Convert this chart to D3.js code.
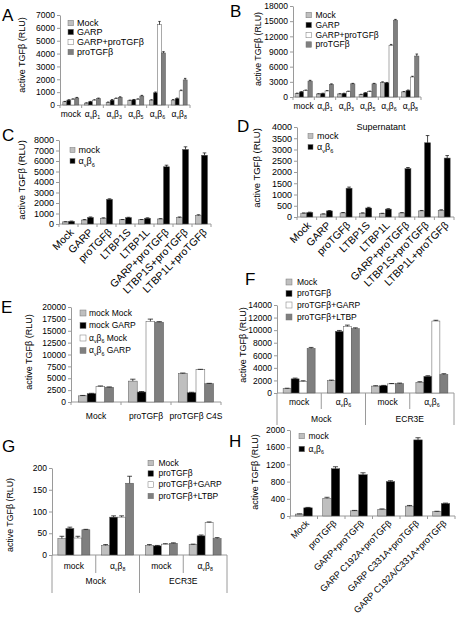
<!DOCTYPE html>
<html><head><meta charset="utf-8">
<script src="https://cdn.jsdelivr.net/npm/d3@7"></script>
<style>
body{margin:0;background:#fff}
svg{display:block}
text{font-family:"Liberation Sans",Arial,sans-serif;fill:#000}
</style>
</head><body>
<svg id="c" width="456" height="623"></svg>
<script>
// ---------- DATA ----------
const yTitle = "active TGFβ (RLU)";
// Panel A
const aCats = ["mock","αvβ1","αvβ3","αvβ5","αvβ6","αvβ8"];
const aLegend = ["Mock","GARP","GARP+proTGFβ","proTGFβ"];
const aMock = [250,150,200,350,380,380],      aMockErr = [30,20,30,30,30,40];
const aGarp = [380,250,380,400,950,500],      aGarpErr = [30,30,40,30,60,40];
const aGarpPro = [450,380,500,450,6250,1100], aGarpProErr = [30,30,40,30,250,60];
const aPro = [550,500,600,700,4050,1950],     aProErr = [40,40,40,50,100,120];
const aTicks = [0,1000,2000,3000,4000,5000,6000,7000];
// Panel B
const bCats = ["mock","αvβ1","αvβ3","αvβ5","αvβ6","αvβ8"];
const bLegend = ["Mock","GARP","GARP+proTGFβ","proTGFβ"];
const bMock = [700,600,600,500,2900,1000],       bMockErr = [60,50,50,40,100,80];
const bGarp = [1000,700,700,800,2800,1300],      bGarpErr = [60,50,50,60,80,80];
const bGarpPro = [1300,1200,1100,1100,10200,3950], bGarpProErr = [80,60,60,60,200,150];
const bPro = [3150,2500,2600,2600,15200,8100],   bProErr = [150,100,100,100,150,400];
const bTicks = [0,3000,6000,9000,12000,15000,18000];
// Panel C
const cCats = ["Mock","GARP","proTGFβ","LTBP1S","LTBP1L","GARP+proTGFβ","LTBP1S+proTGFβ","LTBP1L+proTGFβ"];
const cLegend = ["mock","αvβ6"];
const cMock = [200,380,550,400,400,480,620,820], cMockErr = [20,40,40,30,30,30,50,60];
const cAvb6 = [250,620,2350,600,550,5450,7100,6550], cAvb6Err = [30,50,50,40,40,150,250,220];
const cTicks = [0,1000,2000,3000,4000,5000,6000,7000,8000];
// Panel D
const dCats = ["Mock","GARP","proTGFβ","LTBP1S","LTBP1L","GARP+proTGFβ","LTBP1S+proTGFβ","LTBP1L+proTGFβ"];
const dLegend = ["mock","αvβ6"];
const dTitle = "Supernatant";
const dMock = [170,130,180,170,150,180,270,300], dMockErr = [10,10,20,15,15,15,20,20];
const dAvb6 = [200,270,1280,400,350,2150,3300,2620], dAvb6Err = [15,15,50,30,20,50,320,110];
const dTicks = [0,500,1000,1500,2000,2500,3000,3500,4000];
// Panel E
const eCats = ["Mock","proTGFβ","proTGFβ C4S"];
const eLegend = ["mock Mock","mock GARP","αvβ6 Mock","αvβ6 GARP"];
const eMockMock = [1300,4400,6000],  eMockMockErr = [80,400,100];
const eMockGarp = [1750,2100,1950],  eMockGarpErr = [80,100,100];
const eAvb6Mock = [3300,17000,6800], eAvb6MockErr = [80,450,80];
const eAvb6Garp = [3100,16800,3850], eAvb6GarpErr = [80,120,80];
const eTicks = [0,2500,5000,7500,10000,12500,15000,17500,20000];
// Panel F
const fCats = ["mock","αvβ6","mock","αvβ6"];
const fGroups = ["Mock","ECR3E"];
const fLegend = ["Mock","proTGFβ","proTGFβ+GARP","proTGFβ+LTBP"];
const fMock = [700,1950,1100,1700],       fMockErr = [60,100,60,100];
const fPro = [2250,9800,1150,2650],       fProErr = [120,150,60,100];
const fProGarp = [1850,10600,1450,11450], fProGarpErr = [100,200,60,120];
const fProLtbp = [7100,10250,1500,2950],  fProLtbpErr = [150,120,80,120];
const fTicks = [0,2000,4000,6000,8000,10000,12000,14000];
// Panel G
const gCats = ["mock","αvβ8","mock","αvβ8"];
const gGroups = ["Mock","ECR3E"];
const gLegend = ["Mock","proTGFβ","proTGFβ+GARP","proTGFβ+LTBP"];
const gMock = [38,22,22,24],      gMockErr = [5,2,2,1];
const gPro = [61,87,21,44],       gProErr = [3,3,1,2];
const gProGarp = [39,87,25,75],   gProGarpErr = [4,3,1,1];
const gProLtbp = [58,165,27,38],  gProLtbpErr = [1,16,1,2];
const gTicks = [0,50,100,150,200];
// Panel H
const hCats = ["Mock","proTGFβ","GARP+proTGFβ","GARP C192A+proTGFβ","GARP C331A+proTGFβ","GARP C192A/C331A+proTGFβ"];
const hLegend = ["mock","αvβ6"];
const hMock = [45,410,120,155,230,100],   hMockErr = [5,25,10,10,15,10];
const hAvb6 = [190,1100,960,800,1770,290], hAvb6Err = [10,45,45,20,50,10];
const hTicks = [0,400,800,1200,1600,2000];

// ---------- STYLE ----------
const C_LIGHT = "#bfbfbf", C_BLACK = "#000000", C_WHITE = "#ffffff", C_DARK = "#7f7f7f";
const AX = "#9a9a9a";
const FONT = '"Liberation Sans",Arial,sans-serif';
const svg = d3.select("#c");

function rich(t, str, fs){
  let pend = 0;
  str.split(/(αvβ\d)/).forEach(p=>{
    if(!p) return;
    const m = p.match(/^αvβ(\d)$/);
    if(m){
      t.append("tspan").attr("dy", pend).text("α"); pend = 0;
      t.append("tspan").attr("font-size", fs*0.62).attr("dy", fs*0.28).text("v");
      t.append("tspan").attr("font-size", fs).attr("dy", -fs*0.28).text("β");
      t.append("tspan").attr("font-size", fs*0.62).attr("dy", fs*0.28).text(m[1]);
      pend = -fs*0.28;
    } else {
      t.append("tspan").attr("font-size", fs).attr("dy", pend).text(p); pend = 0;
    }
  });
}

function panel(cfg){
  const g = svg.append("g");
  const x = d3.scaleBand().domain(d3.range(cfg.cats.length)).range([cfg.left, cfg.right]);
  const y = d3.scaleLinear().domain([0, cfg.ticks[cfg.ticks.length-1]]).range([cfg.bottom, cfg.top]);
  // y axis
  const gy = g.append("g").attr("transform", `translate(${cfg.left},0)`)
    .call(d3.axisLeft(y).tickValues(cfg.ticks).tickSize(3).tickSizeOuter(0).tickPadding(2).tickFormat(d3.format("d")));
  gy.select(".domain").attr("stroke", AX);
  gy.selectAll(".tick line").attr("stroke", AX);
  gy.selectAll(".tick text").attr("font-size", cfg.tickFs).attr("font-family", FONT).attr("fill", "#000");
  // x axis
  g.append("line").attr("x1", cfg.left).attr("x2", cfg.right).attr("y1", y(0)).attr("y2", y(0)).attr("stroke", AX);
  const bounds = d3.range(cfg.cats.length+1).map(i => i < cfg.cats.length ? x(i) : cfg.right);
  bounds.forEach((bx,i)=>{
    let len = 3;
    if(cfg.groups){ len = (i % 2 === 0) ? cfg.outerLen : cfg.innerLen; }
    g.append("line").attr("x1", bx).attr("x2", bx).attr("y1", y(0)).attr("y2", y(0)+len).attr("stroke", AX);
  });
  // bars
  const n = cfg.series.length, bw = cfg.barW;
  cfg.series.forEach((s,i)=>{
    const bx = j => x(j) + x.bandwidth()/2 - n*bw/2 + i*bw;
    g.append("g").selectAll("rect").data(s.v).join("rect")
      .attr("x", (d,j)=>bx(j)).attr("y", d=>y(d)).attr("width", bw).attr("height", d=>y(0)-y(d))
      .attr("fill", s.c).attr("stroke", "#555").attr("stroke-width", 0.5);
    const eg = g.append("g").attr("stroke", "#000").attr("stroke-width", 0.7);
    s.v.forEach((d,j)=>{
      const cx = bx(j) + bw/2, yt = y(d + s.e[j]);
      eg.append("line").attr("x1", cx).attr("x2", cx).attr("y1", y(d)).attr("y2", yt);
      eg.append("line").attr("x1", cx - bw*0.3).attr("x2", cx + bw*0.3).attr("y1", yt).attr("y2", yt);
    });
  });
  // category labels
  cfg.cats.forEach((c,j)=>{
    const cx = x(j) + x.bandwidth()/2;
    const t = g.append("text").attr("font-size", cfg.catFs);
    if(cfg.rotate){
      t.attr("text-anchor", "end").attr("transform", `translate(${cx + cfg.rdx},${cfg.bottom + cfg.rdy}) rotate(-45)`);
    } else {
      t.attr("text-anchor", "middle").attr("x", cx).attr("y", cfg.catY);
    }
    rich(t, c, cfg.catFs);
  });
  if(cfg.groups){
    cfg.groups.forEach((gname,k)=>{
      const cx = (x(2*k) + (2*k+2 < cfg.cats.length ? x(2*k+2) : cfg.right))/2;
      g.append("text").attr("font-size", cfg.catFs).attr("text-anchor", "middle").attr("x", cx).attr("y", cfg.groupY).text(gname);
    });
  }
  // y title
  g.append("text").attr("font-size", cfg.titleFs).attr("text-anchor", "middle")
    .attr("transform", `translate(${cfg.titleX},${cfg.titleY}) rotate(-90)`).text(yTitle);
  // legend
  cfg.series.forEach((s,i)=>{
    const ly = cfg.legY[i];
    g.append("rect").attr("x", cfg.legX).attr("y", ly - cfg.legSq/2).attr("width", cfg.legSq).attr("height", cfg.legSq)
      .attr("fill", s.c).attr("stroke", "#777").attr("stroke-width", 0.5);
    const t = g.append("text").attr("x", cfg.legX + cfg.legSq + cfg.legGap).attr("y", ly + cfg.legFs*0.35).attr("font-size", cfg.legFs);
    rich(t, cfg.legend[i], cfg.legFs);
  });
  // panel letter
  g.append("text").attr("x", cfg.letter[0]).attr("y", cfg.letter[1]).attr("font-size", 17).text(cfg.letter[2]);
}

const four = (v1,e1,v2,e2,v3,e3,v4,e4) => [
  {v:v1,e:e1,c:C_LIGHT},{v:v2,e:e2,c:C_BLACK},{v:v3,e:e3,c:C_WHITE},{v:v4,e:e4,c:C_DARK}];
const two = (v1,e1,v2,e2) => [{v:v1,e:e1,c:C_LIGHT},{v:v2,e:e2,c:C_BLACK}];

panel({cats:aCats, legend:aLegend, ticks:aTicks, series:four(aMock,aMockErr,aGarp,aGarpErr,aGarpPro,aGarpProErr,aPro,aProErr),
  left:60, right:190, bottom:105, top:15, barW:4, tickFs:8.5, catFs:8.5, catY:117, titleFs:9, titleX:25, titleY:55,
  legX:68, legY:[23,32,42,52], legSq:5.5, legGap:3.5, legFs:9, letter:[2,21,"A"]});

panel({cats:bCats, legend:bLegend, ticks:bTicks, series:four(bMock,bMockErr,bGarp,bGarpErr,bGarpPro,bGarpProErr,bPro,bProErr),
  left:293, right:421, bottom:97, top:6, barW:4.3, tickFs:8.5, catFs:8.5, catY:109, titleFs:8.8, titleX:261, titleY:49,
  legX:306, legY:[15,25,35,44.5], legSq:5.5, legGap:4, legFs:8.5, letter:[230,17,"B"]});

panel({cats:cCats, legend:cLegend, ticks:cTicks, series:two(cMock,cMockErr,cAvb6,cAvb6Err),
  left:59, right:211, bottom:224, top:140, barW:6, tickFs:9, catFs:10.5, rotate:true, rdx:6, rdy:9, titleFs:9.5, titleX:25, titleY:180,
  legX:70, legY:[150,161], legSq:5, legGap:3.5, legFs:9, letter:[2,141,"C"]});

panel({cats:dCats, legend:dLegend, ticks:dTicks, series:two(dMock,dMockErr,dAvb6,dAvb6Err),
  left:297, right:454, bottom:217, top:127, barW:6, tickFs:9, catFs:10.5, rotate:true, rdx:5, rdy:9, titleFs:9.5, titleX:260, titleY:168,
  legX:308, legY:[136,147], legSq:5, legGap:4, legFs:9, letter:[237,132,"D"]});
svg.append("text").attr("x", 381).attr("y", 130).attr("text-anchor", "middle").attr("font-size", 9).text(dTitle);

panel({cats:eCats, legend:eLegend, ticks:eTicks, series:four(eMockMock,eMockMockErr,eMockGarp,eMockGarpErr,eAvb6Mock,eAvb6MockErr,eAvb6Garp,eAvb6GarpErr),
  left:71, right:221, bottom:402, top:307, barW:8.8, tickFs:8.5, catFs:8.5, catY:419, titleFs:9, titleX:32, titleY:352,
  legX:80, legY:[313,325.5,338,350.5], legSq:6, legGap:3, legFs:8.5, letter:[1,313,"E"]});

panel({cats:fCats, groups:fGroups, legend:fLegend, ticks:fTicks, series:four(fMock,fMockErr,fPro,fProErr,fProGarp,fProGarpErr,fProLtbp,fProLtbpErr),
  left:277, right:454, bottom:393, top:305, barW:8, tickFs:8.5, catFs:8.5, catY:405, groupY:422, innerLen:16, outerLen:32, titleFs:9, titleX:246, titleY:345,
  legX:286, legY:[282,293.5,305,317], legSq:6, legGap:5, legFs:8.5, letter:[245,285,"F"]});

panel({cats:gCats, groups:gGroups, legend:gLegend, ticks:gTicks, series:four(gMock,gMockErr,gPro,gProErr,gProGarp,gProGarpErr,gProLtbp,gProLtbpErr),
  left:52, right:227, bottom:555, top:468, barW:8, tickFs:8.5, catFs:8.5, catY:569, groupY:584, innerLen:18, outerLen:38, titleFs:8.8, titleX:13, titleY:515,
  legX:148, legY:[463,473.5,484.5,496], legSq:5.5, legGap:5, legFs:8.5, letter:[2,452,"G"]});

panel({cats:hCats, legend:hLegend, ticks:hTicks, series:two(hMock,hMockErr,hAvb6,hAvb6Err),
  left:290, right:455, bottom:516, top:430, barW:8.5, tickFs:8.5, catFs:9, rotate:true, rdx:6, rdy:8, titleFs:9, titleX:258, titleY:472,
  legX:299, legY:[436,449], legSq:5.5, legGap:4, legFs:8.5, letter:[229,447,"H"]});
</script>
</body></html>
